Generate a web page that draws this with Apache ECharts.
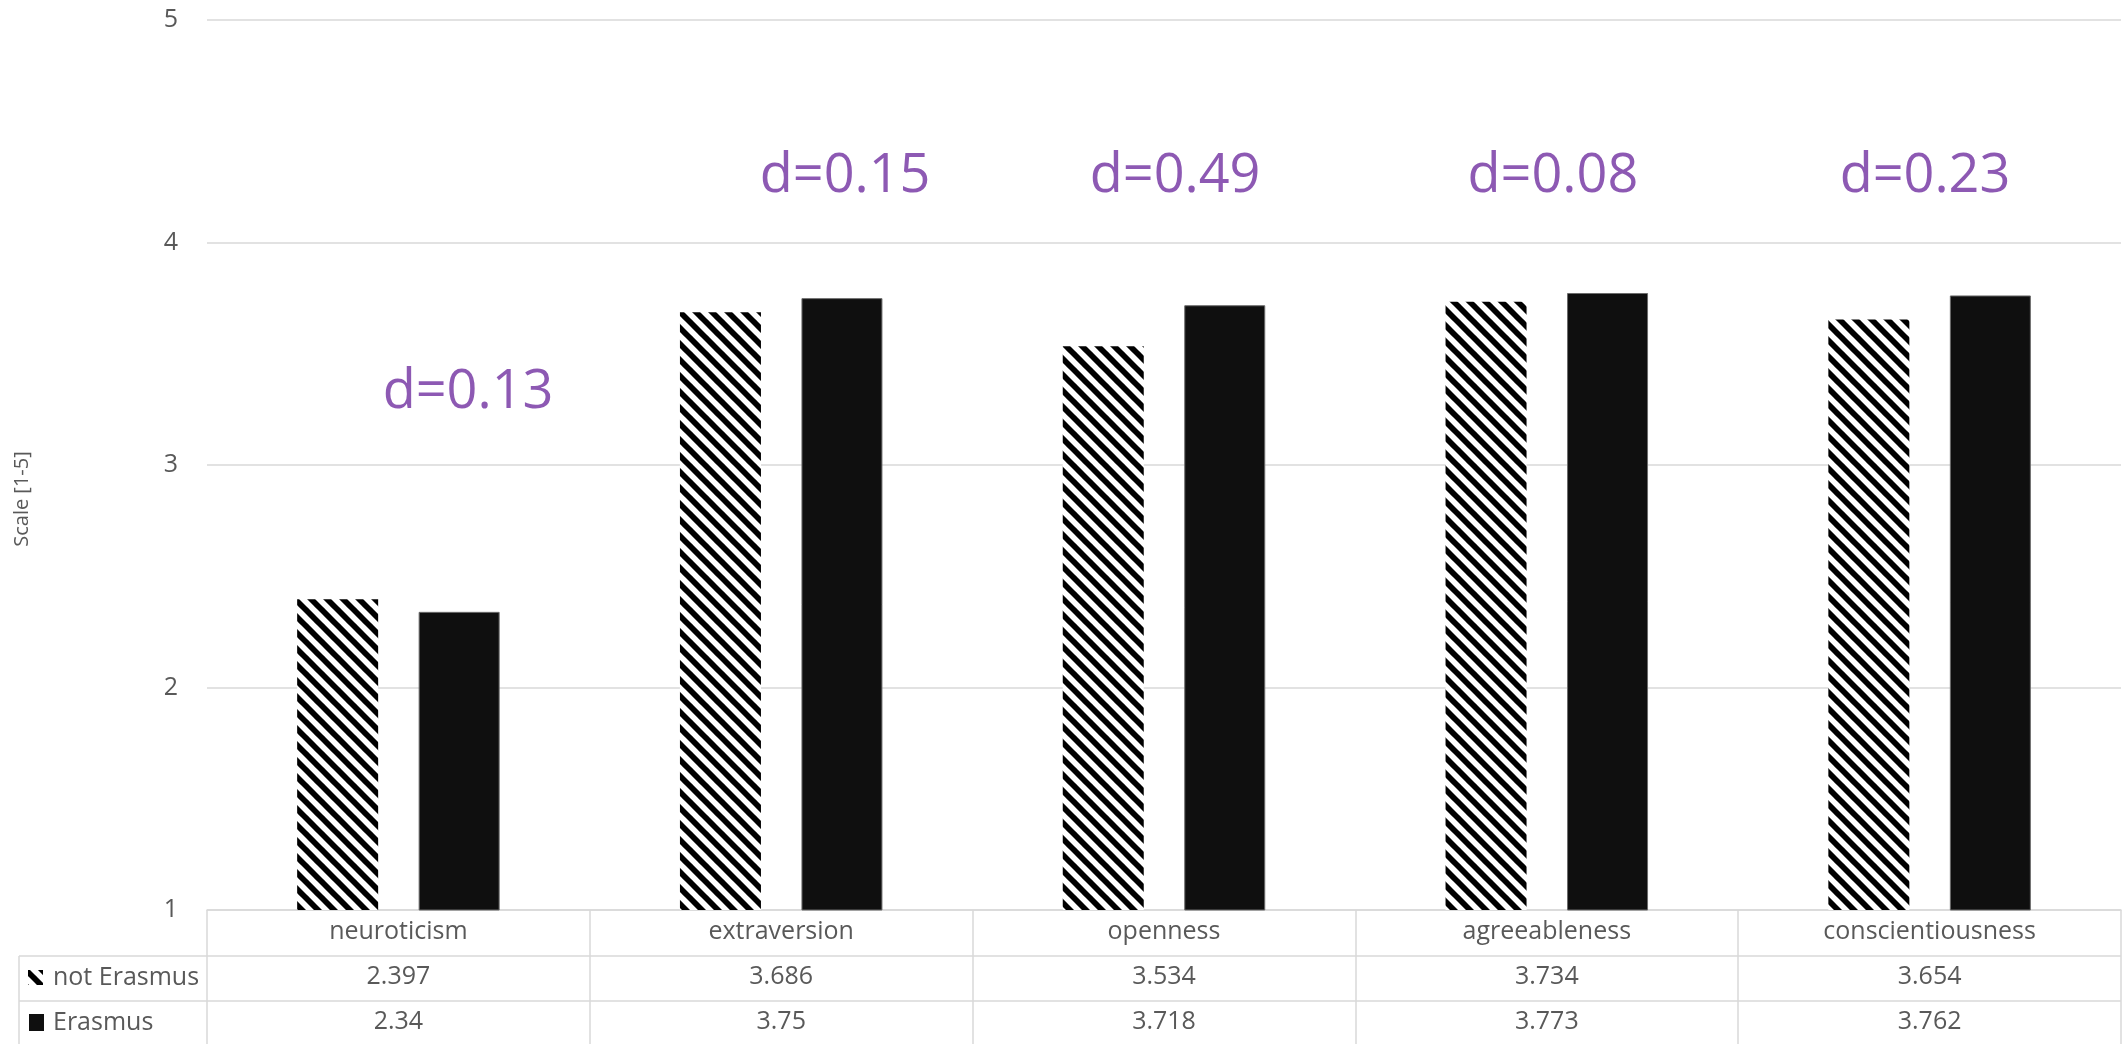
<!DOCTYPE html>
<html>
<head>
<meta charset="utf-8">
<script src="https://cdn.jsdelivr.net/npm/echarts@6/dist/echarts.min.js"></script>
<style>
html,body{margin:0;padding:0;background:#fff;}
#chart{width:2125px;height:1044px;}
</style>
</head>
<body>
<div id="chart"></div>
<script>
// ---- data ----
const categories = ['neuroticism', 'extraversion', 'openness', 'agreeableness', 'conscientiousness'];
const seriesNames = ['not Erasmus', 'Erasmus'];
const notErasmus = [2.397, 3.686, 3.534, 3.734, 3.654];
const erasmus = [2.34, 3.75, 3.718, 3.773, 3.762];
const yTicks = [1, 2, 3, 4, 5];
const dLabels = ['d=0.13', 'd=0.15', 'd=0.49', 'd=0.08', 'd=0.23'];
// annotation anchors in data units (x: category units 0..5, y: scale value)
const dLabelX = [0.682, 1.667, 2.529, 3.516, 4.488];
const dLabelY = [3.324, 4.294, 4.294, 4.294, 4.294];

// ---- styles ----
const FONT = '"Open Sans", "Noto Sans", sans-serif';
const TXT = '#595959';
const GRID = '#d9d9d9';
const PURPLE = '#7030A0';

function makeHatch() {
  const s = 16;
  const c = document.createElement('canvas');
  c.width = s; c.height = s;
  const g = c.getContext('2d');
  g.fillStyle = '#fff';
  g.fillRect(0, 0, s, s);
  g.strokeStyle = '#000';
  g.lineWidth = 5.8;
  for (const k of [-s, 0, s]) {
    g.beginPath();
    g.moveTo(k - 2, -2);
    g.lineTo(k + s + 2, s + 2);
    g.stroke();
  }
  return c;
}
const hatch = { image: makeHatch(), repeat: 'repeat' };

const chart = echarts.init(document.getElementById('chart'), null, { renderer: 'canvas' });

const G = { left: 207, right: 4, top: 20, bottom: 134 };

const option = {
  animation: false,
  textStyle: { fontFamily: FONT },
  grid: { left: G.left, right: G.right, top: G.top, bottom: G.bottom, containLabel: false },
  xAxis: [
    {
      type: 'category', data: categories, position: 'bottom',
      axisLine: { show: true, lineStyle: { color: GRID, width: 1.5 } },
      axisTick: { show: true, length: 134, lineStyle: { color: GRID, width: 1.5 } },
      axisLabel: { fontSize: 25, color: TXT, fontFamily: FONT, margin: 9 }
    },
    {
      type: 'category', data: categories, position: 'bottom', gridIndex: 0,
      axisLine: { show: false }, axisTick: { show: false },
      axisLabel: { fontSize: 25, color: TXT, fontFamily: FONT, margin: 54,
        formatter: (v, i) => String(notErasmus[i]) }
    },
    {
      type: 'category', data: categories, position: 'bottom', gridIndex: 0,
      axisLine: { show: false }, axisTick: { show: false },
      axisLabel: { fontSize: 25, color: TXT, fontFamily: FONT, margin: 99,
        formatter: (v, i) => String(erasmus[i]) }
    },
    { type: 'value', min: 0, max: categories.length, show: false }
  ],
  yAxis: {
    type: 'value', min: yTicks[0], max: yTicks[yTicks.length - 1], interval: 1,
    axisLine: { show: false }, axisTick: { show: false },
    splitLine: { lineStyle: { color: GRID, width: 1.5 } },
    axisLabel: { fontSize: 25, color: TXT, fontFamily: FONT, margin: 29 }
  },
  series: [
    {
      name: seriesNames[0], type: 'bar', data: notErasmus, xAxisIndex: 0,
      barWidth: 81, barGap: '50%',
      itemStyle: { color: hatch }
    },
    {
      name: seriesNames[1], type: 'bar', data: erasmus, xAxisIndex: 0,
      barWidth: 81, barGap: '50%',
      itemStyle: { color: '#0f0f0f', borderColor: '#6b6b6b', borderWidth: 1 }
    },
    {
      type: 'scatter', xAxisIndex: 3, symbolSize: 0,
      data: dLabelX.map((x, i) => [x, dLabelY[i]]),
      label: {
        show: true, position: 'inside', fontSize: 54, color: PURPLE, fontFamily: FONT,
        formatter: p => dLabels[p.dataIndex]
      },
      silent: true
    }
  ],
  graphic: [
    { type: 'line', shape: { x1: 19, y1: 956, x2: 2121, y2: 956 }, style: { stroke: GRID, lineWidth: 1.5 } },
    { type: 'line', shape: { x1: 19, y1: 1001, x2: 2121, y2: 1001 }, style: { stroke: GRID, lineWidth: 1.5 } },
    { type: 'line', shape: { x1: 19, y1: 956, x2: 19, y2: 1044 }, style: { stroke: GRID, lineWidth: 1.5 } },
    { type: 'rect', shape: { x: 28, y: 970, width: 15, height: 15 }, style: { fill: hatch } },
    { type: 'rect', shape: { x: 29, y: 1014, width: 15, height: 17 }, style: { fill: '#0f0f0f' } },
    { type: 'text', x: 53, y: 978, style: { text: seriesNames[0], font: '25px ' + FONT, fill: TXT, verticalAlign: 'middle', align: 'left' } },
    { type: 'text', x: 53, y: 1023, style: { text: seriesNames[1], font: '25px ' + FONT, fill: TXT, verticalAlign: 'middle', align: 'left' } },
    { type: 'text', x: 22, y: 499, rotation: Math.PI / 2, style: { text: 'Scale [1-5]', font: '20px ' + FONT, fill: TXT, verticalAlign: 'middle', align: 'center' } }
  ]
};
chart.setOption(option);
</script>
</body>
</html>
